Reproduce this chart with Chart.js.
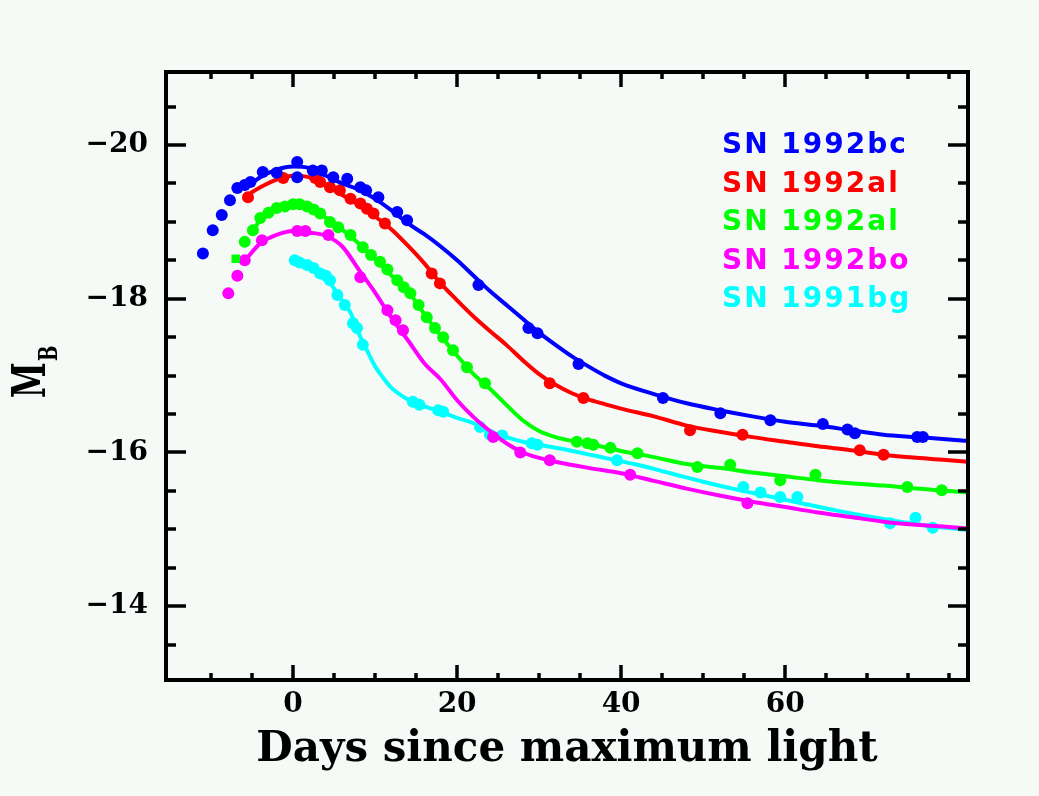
<!DOCTYPE html>
<html>
<head>
<meta charset="utf-8">
<script src="https://cdn.jsdelivr.net/npm/chart.js@4/dist/chart.umd.min.js"></script>
<style>
html,body{margin:0;padding:0;background:#f6faf7;}
canvas{display:block;}
</style>
</head>
<body>
<canvas id="c" width="1039" height="796"></canvas>
<script>
// ---------- data ----------
const seriesNames = ['SN 1992bc', 'SN 1992al', 'SN 1992al', 'SN 1992bo', 'SN 1991bg'];
const seriesColors = ['#0000ff', '#ff0000', '#00ff00', '#ff00ff', '#00ffff'];

const xTickValues = [0, 20, 40, 60];
const yTickValues = [-20, -18, -16, -14];
const xAxisTitle = 'Days since maximum light';
const yAxisTitleMain = 'M';
const yAxisTitleSub = 'B';

// SN 1992bc (blue)
const bcFitDays = [-6,-4,-2,0,2,4,6,8,10,12,14,16,18,20,22,24,26,28,30,32,34,36,38,40,44,48,52,56,60,64,68,72,76,80,82.3];
const bcFitMag  = [-19.42,-19.58,-19.68,-19.72,-19.7,-19.6,-19.5,-19.42,-19.3,-19.15,-18.98,-18.84,-18.68,-18.5,-18.3,-18.1,-17.92,-17.74,-17.56,-17.4,-17.25,-17.12,-17.0,-16.9,-16.76,-16.64,-16.55,-16.47,-16.4,-16.35,-16.29,-16.23,-16.2,-16.17,-16.15];
const bcObsDays = [-11.0,-9.8,-8.7,-7.7,-6.8,-5.9,-5.2,-3.7,-2.0,0.5,0.5,2.4,3.5,4.9,6.6,8.2,8.9,10.4,12.7,13.9,22.6,28.7,29.8,34.8,45.1,52.1,58.2,64.6,67.6,68.5,76.1,76.8];
const bcObsMag  = [-18.59,-18.89,-19.09,-19.28,-19.44,-19.48,-19.52,-19.65,-19.64,-19.78,-19.58,-19.67,-19.67,-19.58,-19.56,-19.45,-19.41,-19.32,-19.13,-19.02,-18.18,-17.62,-17.55,-17.15,-16.71,-16.51,-16.42,-16.37,-16.3,-16.25,-16.2,-16.2];

// SN 1992al (red)
const alFitDays = [-6,-4,-2,0,2,4,6,8,10,12,14,16,18,20,22,24,26,28,30,32,34,36,38,40,44,48,52,56,60,64,68,72,76,80,82.3];
const alFitMag  = [-19.32,-19.45,-19.55,-19.6,-19.58,-19.47,-19.35,-19.22,-19.07,-18.9,-18.69,-18.46,-18.2,-17.98,-17.77,-17.58,-17.4,-17.2,-17.02,-16.88,-16.77,-16.69,-16.63,-16.57,-16.47,-16.35,-16.27,-16.2,-16.14,-16.08,-16.03,-15.97,-15.93,-15.9,-15.88];
const alObsDays = [-5.5,-1.2,2.7,3.3,4.5,5.7,7.0,8.2,9.0,9.8,11.2,16.9,17.9,31.3,35.4,48.4,54.8,69.1,72.0];
const alObsMag  = [-19.32,-19.57,-19.57,-19.52,-19.45,-19.41,-19.3,-19.24,-19.17,-19.11,-18.98,-18.33,-18.2,-16.9,-16.71,-16.29,-16.23,-16.03,-15.97];

// SN 1992al (green)
const al2FitDays = [-5,-4,-2,0,2,4,6,8,10,12,14,16,18,20,22,24,26,28,30,32,34,36,38,40,44,48,52,56,60,64,68,72,76,80,82.3];
const al2FitMag  = [-18.88,-19.02,-19.16,-19.22,-19.18,-19.05,-18.9,-18.72,-18.52,-18.3,-18.1,-17.8,-17.52,-17.26,-17.02,-16.83,-16.62,-16.42,-16.28,-16.2,-16.15,-16.11,-16.07,-16.02,-15.94,-15.85,-15.8,-15.74,-15.69,-15.64,-15.6,-15.57,-15.53,-15.5,-15.48];
const al2ObsDays = [-7.0,-5.9,-4.9,-4.0,-3.0,-2.0,-1.0,0.0,0.8,1.7,2.5,3.3,4.5,5.5,7.0,8.5,9.5,10.6,11.5,12.7,13.5,14.3,15.3,16.3,17.3,18.3,19.5,21.2,23.4,34.6,35.9,36.6,38.7,42.0,49.3,53.3,59.4,63.7,74.9,79.1];
const al2ObsMag  = [-18.52,-18.74,-18.89,-19.05,-19.12,-19.18,-19.2,-19.23,-19.23,-19.2,-19.16,-19.11,-19.0,-18.93,-18.83,-18.67,-18.57,-18.48,-18.38,-18.24,-18.15,-18.07,-17.92,-17.76,-17.62,-17.5,-17.33,-17.11,-16.9,-16.14,-16.12,-16.1,-16.06,-15.99,-15.81,-15.84,-15.64,-15.71,-15.55,-15.51];

// SN 1992bo (magenta)
const boFitDays = [-6,-4,-2,0,2,4,6,8,10,12,14,16,18,20,22,24,26,28,30,32,36,40,44,48,52,56,60,64,68,72,76,80,82.3];
const boFitMag  = [-18.48,-18.72,-18.83,-18.88,-18.86,-18.82,-18.68,-18.38,-18.08,-17.75,-17.46,-17.16,-16.95,-16.68,-16.46,-16.28,-16.12,-16.0,-15.93,-15.88,-15.8,-15.73,-15.63,-15.53,-15.44,-15.36,-15.29,-15.22,-15.16,-15.1,-15.06,-15.03,-15.01];
const boObsDays = [-7.9,-6.8,-5.9,-3.8,0.5,1.5,4.3,8.2,11.5,12.5,13.4,24.4,27.7,31.3,41.1,55.4];
const boObsMag  = [-18.07,-18.3,-18.5,-18.76,-18.88,-18.88,-18.83,-18.28,-17.85,-17.72,-17.59,-16.2,-16.0,-15.9,-15.71,-15.34];

// SN 1991bg (cyan)
const bgFitDays = [0,1,2,3,4,5,6,7,8,9,10,11,12,14,16,18,20,22,24,26,28,30,34,38,42,46,50,54,58,62,66,70,74,78,82.3];
const bgFitMag  = [-18.52,-18.47,-18.42,-18.35,-18.28,-18.13,-17.97,-17.82,-17.55,-17.33,-17.12,-16.97,-16.84,-16.69,-16.6,-16.53,-16.45,-16.38,-16.27,-16.2,-16.14,-16.1,-16.02,-15.93,-15.84,-15.73,-15.62,-15.52,-15.43,-15.34,-15.25,-15.17,-15.1,-15.04,-14.99];
const bgObsDays = [0.2,0.8,1.7,2.5,3.3,4.0,4.5,5.4,6.3,7.3,7.8,8.5,14.6,15.4,17.7,18.3,22.8,24.0,25.5,29.1,29.8,39.5,54.9,57.0,59.4,61.5,72.8,75.9,78.0];
const bgObsMag  = [-18.5,-18.47,-18.44,-18.4,-18.33,-18.3,-18.24,-18.05,-17.92,-17.68,-17.62,-17.4,-16.66,-16.62,-16.55,-16.53,-16.33,-16.23,-16.22,-16.12,-16.1,-15.9,-15.55,-15.48,-15.42,-15.42,-15.08,-15.15,-15.02];

// ---------- build ----------
const toPts = (xs, ys) => xs.map((x, i) => ({x: x, y: ys[i]}));
const series = [
  {fx: bcFitDays,  fy: bcFitMag,  ox: bcObsDays,  oy: bcObsMag},
  {fx: alFitDays,  fy: alFitMag,  ox: alObsDays,  oy: alObsMag},
  {fx: al2FitDays, fy: al2FitMag, ox: al2ObsDays, oy: al2ObsMag},
  {fx: boFitDays,  fy: boFitMag,  ox: boObsDays,  oy: boObsMag},
  {fx: bgFitDays,  fy: bgFitMag,  ox: bgObsDays,  oy: bgObsMag}
];
const datasets = [];
series.forEach((s, i) => {
  const color = seriesColors[i];
  datasets.push({
    label: seriesNames[i] + ' data',
    data: toPts(s.ox, s.oy),
    showLine: false,
    pointRadius: 6,
    pointStyle: (c) => (i === 2 && c.dataIndex === 0) ? 'rect' : 'circle',
    pointBackgroundColor: color,
    pointBorderColor: color,
    pointBorderWidth: 0,
    order: i * 2
  });
  datasets.push({
    label: seriesNames[i],
    isFit: true,
    data: toPts(s.fx, s.fy),
    showLine: true,
    borderColor: color,
    backgroundColor: color,
    borderWidth: 4,
    pointRadius: 0,
    cubicInterpolationMode: 'monotone',
    order: i * 2 + 1
  });
});

const fmt = v => (v < 0 ? '\u2212' + Math.abs(v) : String(v));
const BG = '#f6faf7';

const decor = {
  id: 'decor',
  beforeDraw(chart) {
    const ctx = chart.ctx;
    ctx.save();
    ctx.fillStyle = BG;
    ctx.fillRect(0, 0, chart.width, chart.height);
    ctx.restore();
  },
  afterDatasetsDraw(chart) {
    const ctx = chart.ctx;
    const a = chart.chartArea;
    const xs = chart.scales.x, ys = chart.scales.y;
    ctx.save();
    ctx.strokeStyle = '#000';
    ctx.lineWidth = 4;
    ctx.lineCap = 'butt';
    ctx.strokeRect(a.left, a.top, a.right - a.left, a.bottom - a.top);
    ctx.lineWidth = 3.5;
    ctx.beginPath();
    for (let d = -10; d <= 80; d += 5) {
      const px = Math.round(xs.getPixelForValue(d));
      const len = xTickValues.includes(d) ? 15 : 7;
      ctx.moveTo(px, a.bottom); ctx.lineTo(px, a.bottom - len);
      ctx.moveTo(px, a.top); ctx.lineTo(px, a.top + len);
    }
    for (let m = -20.5; m <= -13.5; m += 0.5) {
      const py = Math.round(ys.getPixelForValue(m));
      const len = yTickValues.includes(m) ? 20 : 10;
      ctx.moveTo(a.left, py); ctx.lineTo(a.left + len, py);
      ctx.moveTo(a.right, py); ctx.lineTo(a.right - len, py);
    }
    ctx.stroke();
    ctx.restore();
  },
  afterDraw(chart) {
    const ctx = chart.ctx;
    ctx.save();
    ctx.font = 'bold 28px "DejaVu Sans"';
    try { ctx.letterSpacing = '2px'; } catch (e) {}
    ctx.textBaseline = 'middle';
    ctx.textAlign = 'left';
    chart.data.datasets.filter(d => d.isFit).forEach((d, i) => {
      ctx.fillStyle = d.borderColor;
      ctx.fillText(d.label, 722, 146 + i * 38.5);
    });
    ctx.restore();
    ctx.save();
    ctx.translate(45, 398);
    ctx.rotate(-Math.PI / 2);
    ctx.scale(0.7, 1);
    ctx.fillStyle = '#000';
    ctx.textBaseline = 'alphabetic';
    ctx.font = 'bold 46px "DejaVu Serif"';
    ctx.fillText(yAxisTitleMain, 0, 0);
    const w = ctx.measureText(yAxisTitleMain).width;
    ctx.font = 'bold 26px "DejaVu Serif"';
    ctx.fillText(yAxisTitleSub, w + 2, 12);
    ctx.restore();
  }
};

new Chart(document.getElementById('c'), {
  type: 'scatter',
  data: {datasets: datasets},
  options: {
    responsive: false,
    animation: false,
    devicePixelRatio: 1,
    layout: {padding: {top: 72, right: 71, bottom: 0, left: 0}},
    plugins: {legend: {display: false}, tooltip: {enabled: false}, title: {display: false}},
    scales: {
      x: {
        type: 'linear',
        min: -15.5, max: 82.3,
        grid: {display: false, drawTicks: false},
        border: {display: false},
        afterBuildTicks: s => { s.ticks = xTickValues.map(v => ({value: v})); },
        afterFit: s => { s.height = 116; },
        ticks: {
          color: '#000', padding: 11, maxRotation: 0, autoSkip: false,
          font: {family: 'DejaVu Serif', size: 28, weight: 'bold', lineHeight: 1},
          callback: v => fmt(v)
        },
        title: {
          display: true, text: xAxisTitle, color: '#000',
          font: {family: 'DejaVu Serif', size: 42, weight: 'bold', lineHeight: 1},
          padding: {top: 0, bottom: 25}
        }
      },
      y: {
        type: 'linear',
        reverse: true,
        min: -20.95, max: -13.04,
        grid: {display: false, drawTicks: false},
        border: {display: false},
        afterBuildTicks: s => { s.ticks = yTickValues.map(v => ({value: v})); },
        afterFit: s => { s.width = 166; },
        ticks: {
          color: '#000', padding: 18, autoSkip: false,
          font: {family: 'DejaVu Serif', size: 28, weight: 'bold', lineHeight: 1},
          callback: v => fmt(v)
        }
      }
    }
  },
  plugins: [decor]
});
</script>
</body>
</html>
